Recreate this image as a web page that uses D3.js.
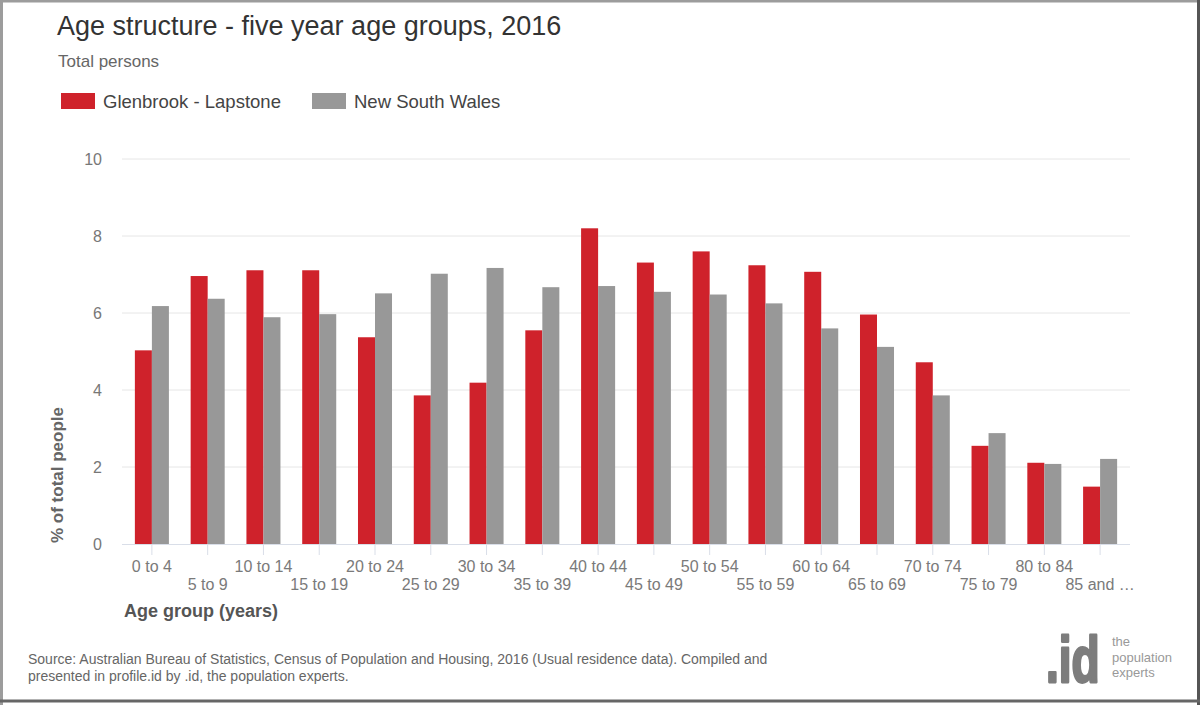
<!DOCTYPE html>
<html>
<head>
<meta charset="utf-8">
<script src="https://cdn.jsdelivr.net/npm/d3@7"></script>
<style>
    body { margin: 0; background: #fff; }
    text { font-family: "Liberation Sans", Arial, sans-serif; }
</style>
</head>
<body>
<div id="chart"></div>
<script>
// chart data
var ageGroups = ['0 to 4', '5 to 9', '10 to 14', '15 to 19', '20 to 24', '25 to 29', '30 to 34',
    '35 to 39', '40 to 44', '45 to 49', '50 to 54', '55 to 59', '60 to 64', '65 to 69',
    '70 to 74', '75 to 79', '80 to 84', '85 and \u2026'];
var glenbrook = [5.03, 6.96, 7.11, 7.11, 5.37, 3.86, 4.19, 5.55, 8.20, 7.31, 7.60, 7.24,
    7.07, 5.96, 4.72, 2.55, 2.11, 1.49];
var nsw = [6.18, 6.37, 5.89, 5.97, 6.51, 7.02, 7.17, 6.67, 6.70, 6.55, 6.48, 6.25,
    5.60, 5.12, 3.86, 2.88, 2.08, 2.21];
var seriesNames = ['Glenbrook - Lapstone', 'New South Wales'];
var yTicks = [0, 2, 4, 6, 8, 10];

var width = 1200,
    height = 705,
    colors = ['#cf222b', '#989898'],
    margin = { left: 124, right: 72, top: 159, bottom: 161 };

var chartWidth = width - margin.left - margin.right;
var chartHeight = height - margin.top - margin.bottom;

var svg = d3.select('#chart').append('svg')
    .attr('width', width)
    .attr('height', height);

// frame
svg.append('rect').attr('width', width).attr('height', height).attr('fill', '#fff');
svg.append('line').attr('x1', 0).attr('x2', width).attr('y1', 1).attr('y2', 1)
    .attr('stroke', '#9c9c9c').attr('stroke-width', 3);
svg.append('line').attr('x1', 1.5).attr('x2', 1.5).attr('y1', 0).attr('y2', height)
    .attr('stroke', '#9c9c9c').attr('stroke-width', 3);
svg.append('line').attr('x1', 1198.5).attr('x2', 1198.5).attr('y1', 0).attr('y2', height)
    .attr('stroke', '#555').attr('stroke-width', 3);
svg.append('line').attr('x1', 0).attr('x2', width).attr('y1', 701).attr('y2', 701)
    .attr('stroke', '#666').attr('stroke-width', 3);

// titles
svg.append('text')
    .attr('x', 57).attr('y', 35)
    .attr('font-size', 27)
    .attr('fill', '#333')
    .text('Age structure - five year age groups, 2016');

svg.append('text')
    .attr('x', 58).attr('y', 67)
    .attr('font-size', 17)
    .attr('fill', '#666')
    .text('Total persons');

// legend
var legendX = [61, 312];
seriesNames.forEach(function (name, i) {
    svg.append('rect')
        .attr('x', legendX[i]).attr('y', 93)
        .attr('width', 34).attr('height', 16)
        .attr('fill', colors[i]);
    svg.append('text')
        .attr('x', legendX[i] + 42).attr('y', 108)
        .attr('font-size', 18.5)
        .attr('fill', '#444')
        .text(name);
});

// scales
var x0 = d3.scaleBand()
    .domain(ageGroups)
    .range([0, chartWidth])
    .paddingInner(0.39)
    .paddingOuter(0.195);

var x1 = d3.scaleBand()
    .domain([0, 1])
    .range([0, x0.bandwidth()]);

var yScale = d3.scaleLinear()
    .domain([0, 10])
    .range([chartHeight, 0]);

var chartG = svg.append('g')
    .attr('transform', 'translate(' + margin.left + ',' + margin.top + ')');

// gridlines
chartG.append('g')
    .attr('class', 'grid')
    .selectAll('line')
    .data(yTicks.slice(1))
    .enter().append('line')
    .attr('x1', -2).attr('x2', chartWidth + 2)
    .attr('y1', function (d) { return yScale(d); })
    .attr('y2', function (d) { return yScale(d); })
    .attr('stroke', '#e6e6e6');

// y axis labels
var yAxis = d3.axisLeft(yScale).tickValues(yTicks).tickSize(0).tickPadding(22);
chartG.append('g')
    .attr('class', 'axis y')
    .call(yAxis)
    .call(function (g) { g.select('.domain').remove(); })
    .selectAll('text')
    .attr('font-size', 16)
    .attr('fill', '#777')
    .attr('font-family', '"Liberation Sans", Arial, sans-serif');

// bars
var rows = ageGroups.map(function (g, i) {
    return { key: g, values: [glenbrook[i], nsw[i]] };
});

var groups = chartG.selectAll('.group')
    .data(rows)
    .enter().append('g')
    .attr('class', 'group')
    .attr('transform', function (d) { return 'translate(' + x0(d.key) + ',0)'; });

groups.selectAll('rect')
    .data(function (d) { return d.values.map(function (v, i) { return { i: i, v: v }; }); })
    .enter().append('rect')
    .attr('x', function (d) { return x1(d.i); })
    .attr('width', x1.bandwidth())
    .attr('y', function (d) { return yScale(d.v); })
    .attr('height', function (d) { return chartHeight - yScale(d.v); })
    .attr('fill', function (d) { return colors[d.i]; });

// x axis
var xAxis = d3.axisBottom(x0).tickSize(11).tickPadding(8);
var xG = chartG.append('g')
    .attr('class', 'axis x')
    .attr('transform', 'translate(0,' + chartHeight + ')')
    .call(xAxis);
xG.select('.domain')
    .attr('d', 'M-2,0.5H' + (chartWidth + 2))
    .attr('stroke', '#d9dee8');
xG.selectAll('.tick line').attr('stroke', '#d9dee8');
xG.selectAll('.tick text')
    .attr('font-size', 16)
    .attr('fill', '#7a7a7a')
    .attr('font-family', '"Liberation Sans", Arial, sans-serif')
    .attr('dy', null)
    .attr('y', function (d, i) { return i % 2 === 0 ? 28 : 46; });

// axis titles
svg.append('text')
    .attr('transform', 'translate(63,543) rotate(-90)')
    .attr('font-size', 17)
    .attr('font-weight', 'bold')
    .attr('fill', '#666')
    .text('% of total people');

svg.append('text')
    .attr('x', 124).attr('y', 617)
    .attr('font-size', 18)
    .attr('font-weight', 'bold')
    .attr('fill', '#555')
    .text('Age group (years)');

// source
var sourceLines = ['Source: Australian Bureau of Statistics, Census of Population and Housing, 2016 (Usual residence data). Compiled and',
    'presented in profile.id by .id, the population experts.'];
svg.append('text')
    .attr('font-size', 14)
    .attr('fill', '#666')
    .selectAll('tspan')
    .data(sourceLines)
    .enter().append('tspan')
    .attr('x', 28)
    .attr('y', function (d, i) { return 664 + i * 17; })
    .text(function (d) { return d; });

// logo
svg.append('text')
    .attr('transform', 'translate(1046,682) scale(1,1.4)')
    .attr('font-size', 46)
    .attr('font-weight', 'bold')
    .attr('fill', '#7d7d7d')
    .attr('stroke', '#7d7d7d')
    .attr('stroke-width', 2)
    .attr('stroke-linejoin', 'round')
    .text('.id');

var logoLines = ['the', 'population', 'experts'];
svg.append('g')
    .selectAll('text')
    .data(logoLines)
    .enter().append('text')
    .attr('font-size', 13)
    .attr('fill', '#999')
    .attr('x', 1112)
    .attr('y', function (d, i) { return 646 + i * 15.5; })
    .text(function (d) { return d; });
</script>
</body>
</html>
